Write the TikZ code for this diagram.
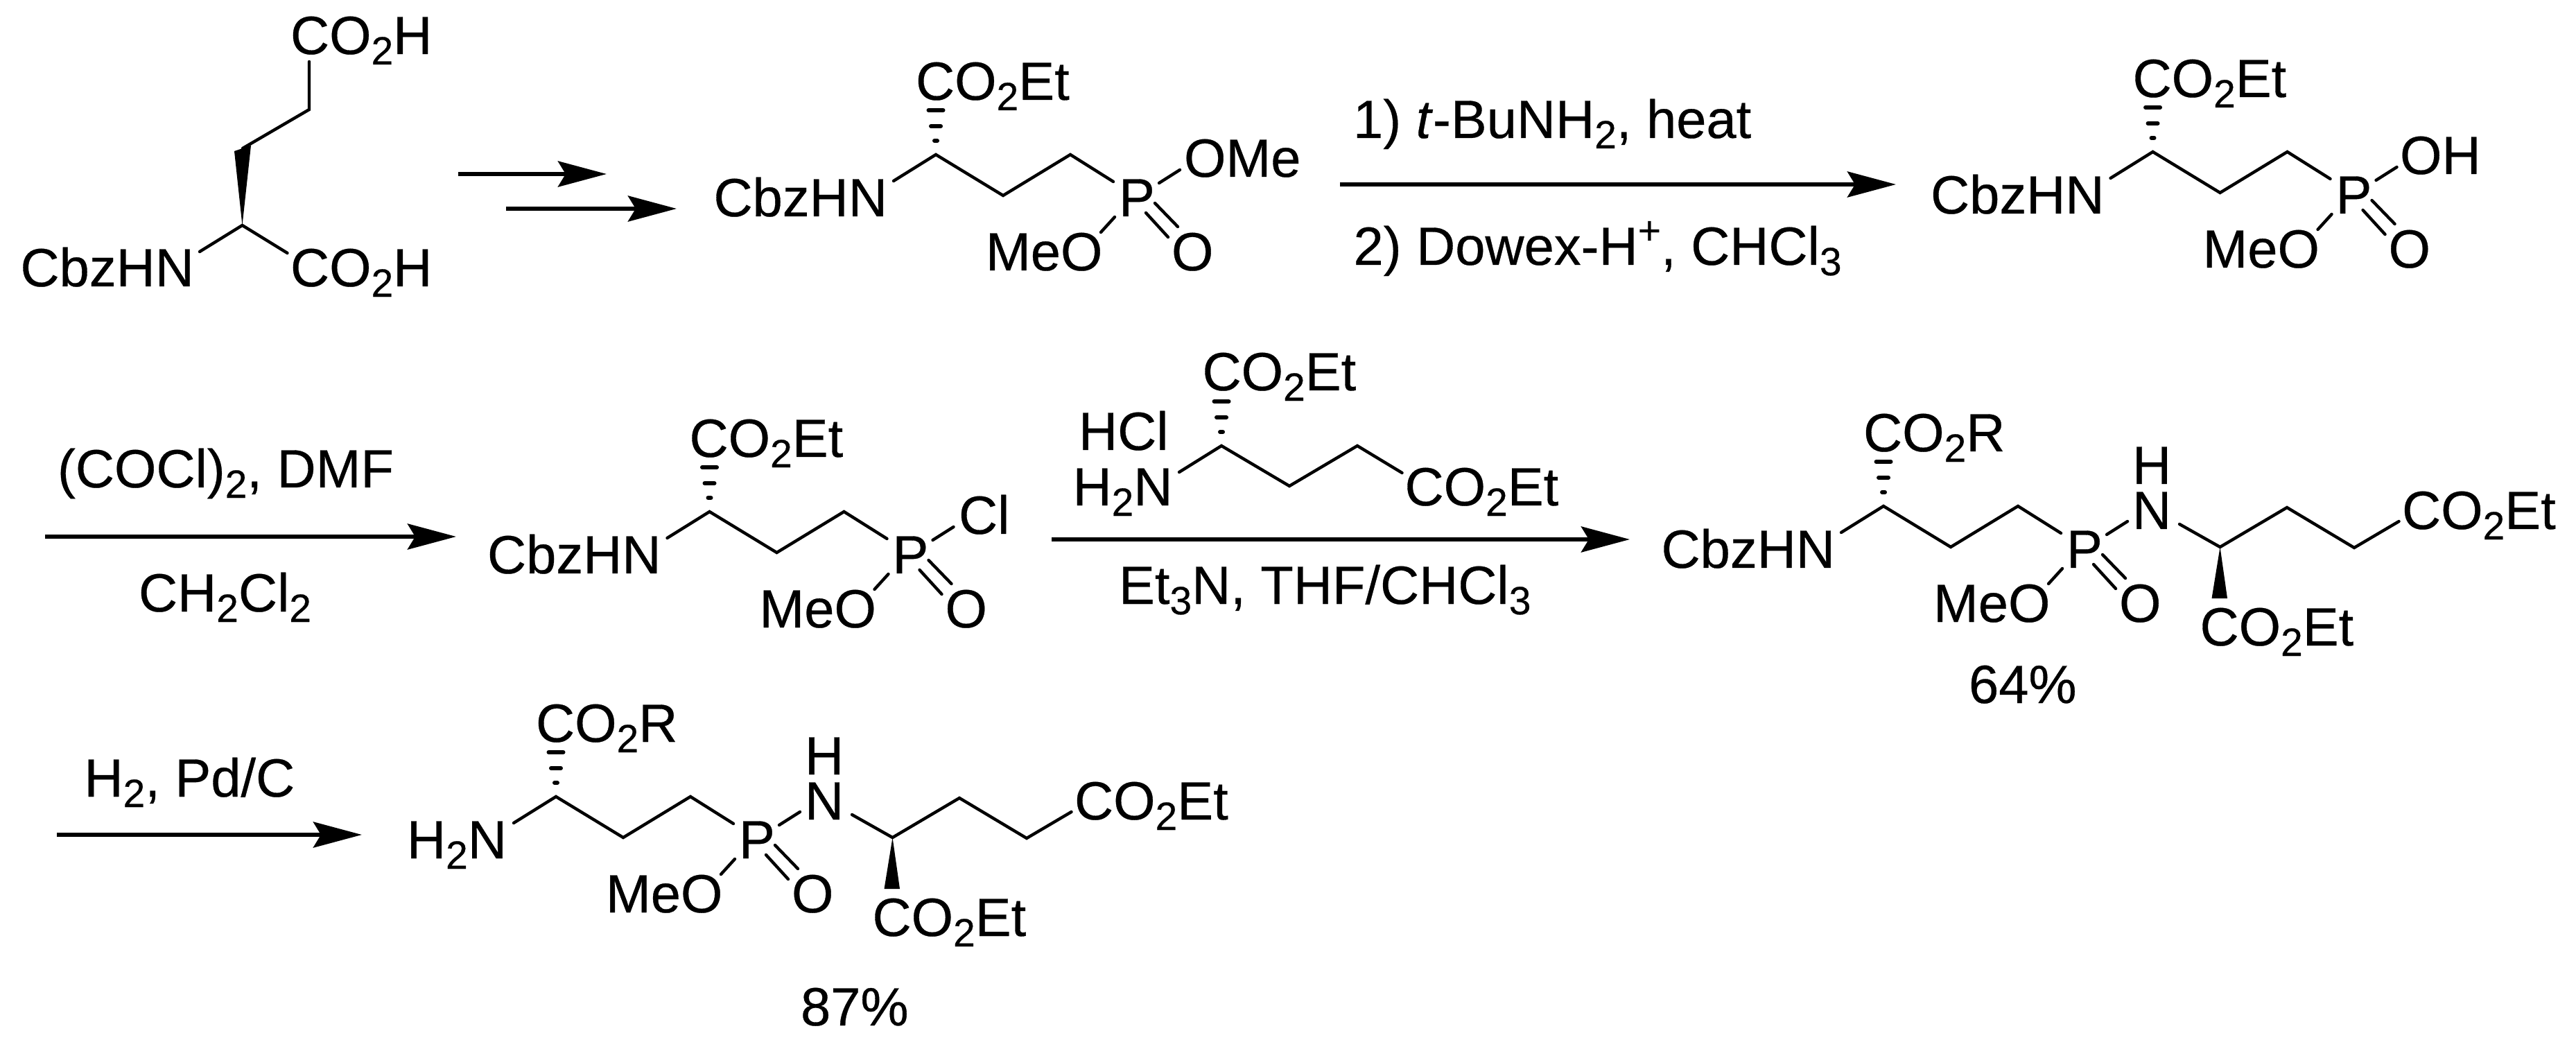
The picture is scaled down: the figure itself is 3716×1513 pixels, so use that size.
\documentclass[tikz,border=0pt]{standalone}
\usepackage{fontspec}
\setmainfont[RawFeature={embolden=0.4}]{Liberation Sans}
\usetikzlibrary{arrows.meta}
\newcommand\subs[1]{\raisebox{-0.15cm}{\fontsize{16.2}{16}\selectfont #1}}
\newcommand\sups[1]{\raisebox{0.3cm}{\fontsize{16.2}{16}\selectfont #1}}
\tikzset{
  lbl/.style={inner sep=0pt,outer sep=0pt,anchor=base west,font=\fontsize{22.1}{24}\selectfont},
  bond/.style={line width=0.044cm,line cap=round,line join=miter,black},
  hashb/.style={line width=0.06cm,line cap=round,black},
  wedge/.style={fill=black,draw=none},
  rxn/.style={line width=0.06cm,black,-{Stealth[length=0.70cm,width=0.37cm,inset=0.11cm]}}
}
\newcommand\hashbond[1]{%
  \draw[hashb] (#1) ++(-10.5,-64) -- ++(21,0) (#1) ++(-7,-41) -- ++(14,0) (#1) ++(-2,-20) -- ++(4,0);}
% #1 shift, #2 prefix, #3 ester end group, #4 x of left group, #5 left group
\newcommand\core[5]{%
\begin{scope}[shift={(#1)},name prefix=#2-]
  \node[lbl] (est) at (1321,144) {CO\subs{2}#3};
  \node[lbl] (left) at (#4,312) {#5};
  \node[lbl] (p) at (1614,312) {P};
  \node[lbl] (meo) at (1422,390) {MeO};
  \node[lbl] (dbo) at (1690,390) {O};
  \coordinate (c1) at (1350,223);
  \coordinate (c2) at (1447,282);
  \coordinate (c3) at (1544,223);
  \coordinate (ln) at (1289,261);
  \coordinate (pa) at (1606,262);
  \coordinate (pb) at (1608,313);
  \coordinate (ob) at (1588,335);
  \coordinate (pc) at (1672,264);
  \coordinate (rt) at (1702,245);
  \coordinate (da) at (1666,293);
  \coordinate (db) at (1699,327);
  \coordinate (dc) at (1653,307);
  \coordinate (dd) at (1685,342);
  \draw[bond] (ln) -- (c1) -- (c2) -- (c3) -- (pa);
  \draw[bond] (pb) -- (ob);
  \draw[bond] (pc) -- (rt);
  \draw[bond] (da) -- (db);
  \draw[bond] (dc) -- (dd);
  \hashbond{c1}
\end{scope}}
% #1 shift, #2 prefix: phosphoramide tail
\newcommand\tail[2]{%
\begin{scope}[shift={(#1)},name prefix=#2-]
  \node[lbl] (n) at (3076,763) {N};
  \node[lbl] (h) at (3076,698) {H};
  \node[lbl] (e1) at (3465,763) {CO\subs{2}Et};
  \node[lbl] (e2) at (3173.5,931) {CO\subs{2}Et};
  \coordinate (na) at (3144,756);
  \coordinate (ca) at (3202.5,789);
  \coordinate (cb) at (3299,732);
  \coordinate (cc) at (3396,790);
  \coordinate (ce) at (3460.5,752);
  \coordinate (wa) at (3190.5,863);
  \coordinate (wb) at (3213,863);
  \draw[bond] (na) -- (ca) -- (cb) -- (cc) -- (ce);
  \fill[wedge] (ca) -- (wa) -- (wb) -- cycle;
\end{scope}}
\begin{document}
\begin{tikzpicture}[x=0.01cm,y=-0.01cm]
\useasboundingbox (0,0) rectangle (3716,1513);
% --- starting diacid
\node[lbl] (sTop) at (419,78) {CO\subs{2}H};
\node[lbl] (sLow) at (419,413) {CO\subs{2}H};
\node[lbl] (sN) at (29.5,413) {CbzHN};
\coordinate (s1) at (446,89);
\coordinate (s2) at (446,158);
\coordinate (s3) at (350,214);
\coordinate (s3a) at (338,218);
\coordinate (s3b) at (362,210);
\coordinate (s4) at (349.5,325);
\coordinate (s5) at (288,363);
\coordinate (s6) at (414.5,365);
\draw[bond] (s1) -- (s2) -- (s3);
\fill[wedge] (s4) -- (s3a) -- (s3b) -- cycle;
\draw[bond] (s5) -- (s4) -- (s6);
% --- two step arrows
\coordinate (a1s) at (661,251); \coordinate (a1e) at (875,251);
\coordinate (a2s) at (730,301); \coordinate (a2e) at (976,301);
\draw[rxn] (a1s) -- (a1e);
\draw[rxn] (a2s) -- (a2e);
% --- dimethyl phosphonate
\core{0,0}{mA}{Et}{1029.5}{CbzHN}
\node[lbl] (mA-r) at (1708,255) {OMe};
% --- arrow 3
\node[lbl] (r1) at (1952,199) {1) \textit{t}-BuNH\subs{2}, heat};
\node[lbl] (r2) at (1952.5,382) {2) Dowex-H\sups{+}, CHCl\subs{3}};
\coordinate (a3s) at (1933,266); \coordinate (a3e) at (2735,266);
\draw[rxn] (a3s) -- (a3e);
% --- phosphonic monoester
\core{1755.5,-4}{mB}{Et}{1029.5}{CbzHN}
\node[lbl] (mB-r) at (3462,251) {OH};
% --- arrow 4
\node[lbl] (r3) at (83,703) {(COCl)\subs{2}, DMF};
\node[lbl] (r4) at (200,882) {CH\subs{2}Cl\subs{2}};
\coordinate (a4s) at (65,774); \coordinate (a4e) at (658,774);
\draw[rxn] (a4s) -- (a4e);
% --- chloride
\core{-326.5,515}{mC}{Et}{1029.5}{CbzHN}
\node[lbl] (mC-r) at (1383,770) {Cl};
% --- amine reagent over arrow 5
\node[lbl] (gE1) at (1734.5,563) {CO\subs{2}Et};
\node[lbl] (gHCl) at (1556,649) {HCl};
\node[lbl] (gN) at (1547.5,729) {H\subs{2}N};
\node[lbl] (gE2) at (2026.5,729) {CO\subs{2}Et};
\coordinate (g1) at (1762,643);
\coordinate (g2) at (1860,701);
\coordinate (g3) at (1958,643);
\coordinate (g0) at (1701,681);
\coordinate (g4) at (2022.5,682);
\draw[bond] (g0) -- (g1) -- (g2) -- (g3) -- (g4);
\hashbond{g1}
\node[lbl] (r5) at (1614,871) {Et\subs{3}N, THF/CHCl\subs{3}};
\coordinate (a5s) at (1517,778); \coordinate (a5e) at (2351,778);
\draw[rxn] (a5s) -- (a5e);
% --- protected product
\core{1367,507}{mD}{R}{1029.5}{CbzHN}
\tail{0,0}{mD}
\node[lbl] (y1) at (2840,1014) {64\%};
% --- arrow 6
\node[lbl] (r6) at (121.5,1149) {H\subs{2}, Pd/C};
\coordinate (a6s) at (82,1204); \coordinate (a6e) at (522,1204);
\draw[rxn] (a6s) -- (a6e);
% --- deprotected product
\core{-548,926}{mE}{R}{1135}{H\subs{2}N}
\tail{-1915,419}{mE}
\node[lbl] (y2) at (1155,1479) {87\%};
\end{tikzpicture}
\end{document}
